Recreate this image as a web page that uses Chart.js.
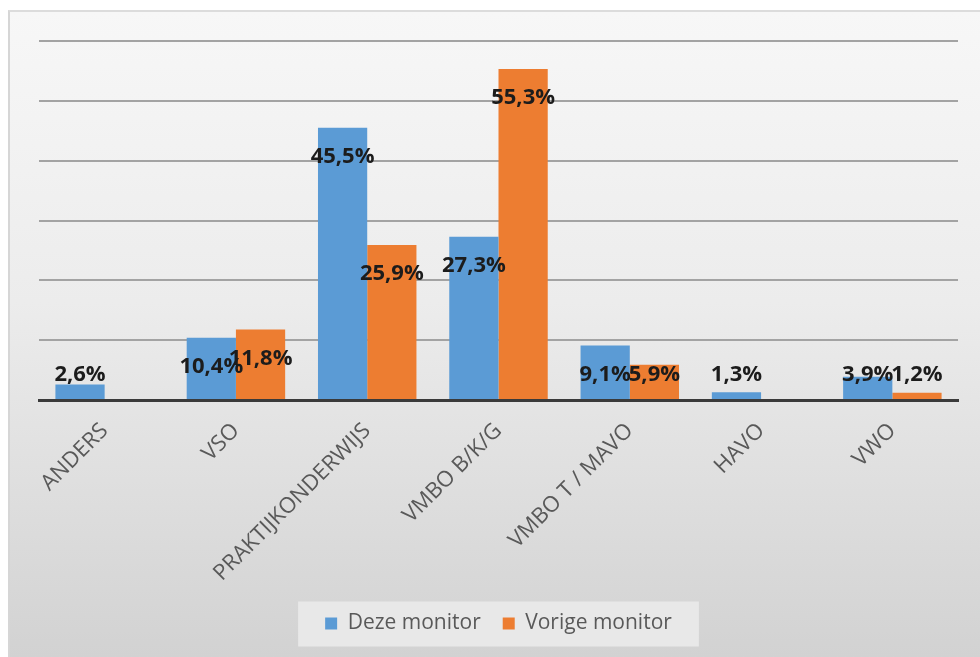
<!DOCTYPE html>
<html>
<head>
<meta charset="utf-8">
<script src="https://cdn.jsdelivr.net/npm/chart.js@4.4.1/dist/chart.umd.min.js"></script>
<style>
    html, body { margin: 0; padding: 0; background: #ffffff; }
    #kaart {
        position: absolute; left: 8px; top: 10px; width: 972px; height: 647px;
        border-left: 2px solid #d6d6d6; border-top: 2px solid #dcdcdc;
        box-sizing: border-box;
        background: linear-gradient(to bottom, #f7f7f7 0%, #ececec 45%, #d2d2d2 100%);
    }
    #wrap { position: absolute; left: 0; top: 0; width: 980px; height: 657px; }
</style>
</head>
<body>
<div id="kaart"></div>
<div id="wrap"><canvas id="grafiek" width="980" height="657"></canvas></div>
<script>
// categorieen en waarden (percentages)
const categorieen = ['ANDERS', 'VSO', 'PRAKTIJKONDERWIJS', 'VMBO B/K/G', 'VMBO T / MAVO', 'HAVO', 'VWO'];
const dezeMonitor = [2.6, 10.4, 45.5, 27.3, 9.1, 1.3, 3.9];
const vorigeMonitor = [null, 11.8, 25.9, 55.3, 5.9, null, 1.2];
const reeksNamen = ['Deze monitor', 'Vorige monitor'];
const yMax = 60;
const yStap = 10;

function formatPct(v) {
    return v.toFixed(1).replace('.', ',') + '%';
}

// labels bij de staven (zoals Excel "binnen einde")
const waardeLabels = {
    id: 'waardeLabels',
    afterDatasetsDraw(chart) {
        const ctx = chart.ctx;
        const nulLijn = chart.scales.y.getPixelForValue(0);
        ctx.save();
        ctx.font = 'bold 22px "Open Sans", sans-serif';
        ctx.fillStyle = '#1c1c1c';
        ctx.textAlign = 'center';
        ctx.textBaseline = 'middle';
        chart.data.datasets.forEach((ds, i) => {
            const meta = chart.getDatasetMeta(i);
            meta.data.forEach((el, j) => {
                const v = ds.data[j];
                if (v === null || v === undefined) return;
                const y = Math.min(el.y + 29, nulLijn - 25);
                ctx.fillText(formatPct(v), el.x, y);
            });
        });
        ctx.restore();
    }
};

// lichte achtergrond achter de legenda
const legendaAchtergrond = {
    id: 'legendaAchtergrond',
    beforeDraw(chart) {
        const lg = chart.legend;
        if (!lg || !lg.legendHitBoxes || !lg.legendHitBoxes.length) return;
        const boxes = lg.legendHitBoxes;
        let links = Infinity, rechts = -Infinity;
        boxes.forEach(b => {
            links = Math.min(links, b.left);
            rechts = Math.max(rechts, b.left + b.width);
        });
        const midden = boxes[0].top + boxes[0].height / 2;
        const ctx = chart.ctx;
        ctx.save();
        ctx.fillStyle = 'rgba(234,234,234,0.9)';
        ctx.fillRect(links - 27, midden - 22, rechts - links + 54, 45);
        ctx.restore();
    }
};

const ctx = document.getElementById('grafiek').getContext('2d');
new Chart(ctx, {
    type: 'bar',
    data: {
        labels: categorieen,
        datasets: [
            {
                label: reeksNamen[0],
                data: dezeMonitor,
                backgroundColor: '#5b9bd5',
                categoryPercentage: 0.75,
                barPercentage: 1.0
            },
            {
                label: reeksNamen[1],
                data: vorigeMonitor,
                backgroundColor: '#ed7d31',
                categoryPercentage: 0.75,
                barPercentage: 1.0
            }
        ]
    },
    options: {
        responsive: false,
        animation: false,
        layout: {
            padding: { left: 39, right: 22, top: 41, bottom: 13 }
        },
        scales: {
            x: {
                grid: { display: false },
                border: { display: true, color: '#3a3a3a', width: 3 },
                ticks: {
                    autoSkip: false,
                    maxRotation: 45,
                    minRotation: 45,
                    padding: 10,
                    color: '#595959',
                    font: { family: '"Open Sans", sans-serif', size: 22 }
                },
                afterFit(scale) {
                    scale.height = 191;
                }
            },
            y: {
                min: 0,
                max: yMax,
                ticks: { display: false, stepSize: yStap },
                border: { display: false },
                grid: {
                    drawTicks: false,
                    color: '#a3a3a3',
                    lineWidth: 2
                },
                afterFit(scale) {
                    scale.width = 0;
                }
            }
        },
        plugins: {
            legend: {
                position: 'bottom',
                labels: {
                    boxWidth: 12,
                    boxHeight: 12,
                    padding: 22,
                    color: '#595959',
                    font: { family: '"Open Sans", sans-serif', size: 21 }
                }
            },
            tooltip: { enabled: false }
        }
    },
    plugins: [legendaAchtergrond, waardeLabels]
});
</script>
</body>
</html>
